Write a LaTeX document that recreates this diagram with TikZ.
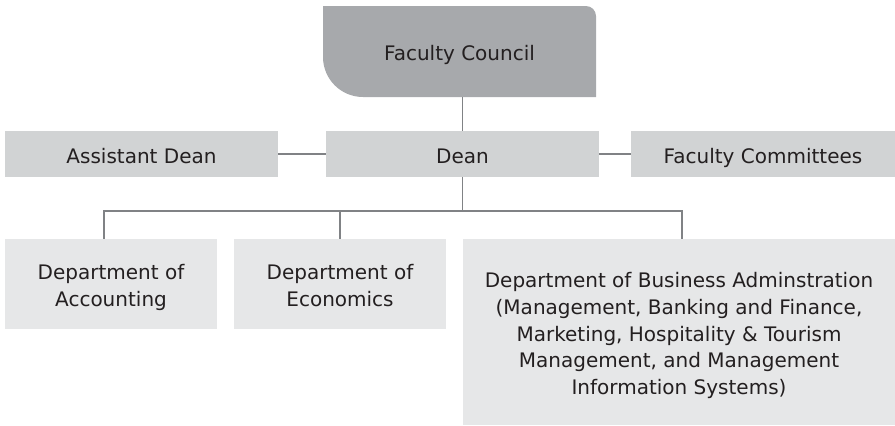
\documentclass[tikz,border=0pt]{standalone}
\usepackage{fontspec}
\setmainfont{DejaVu Sans}
\definecolor{councilgray}{HTML}{A7A9AC}
\definecolor{midgray}{HTML}{D1D3D4}
\definecolor{lightgray}{HTML}{E6E7E8}
\definecolor{linegray}{HTML}{808285}
\definecolor{txt}{HTML}{231F20}
\newcommand\myhstrut{\rule{0pt}{24pt}}
\newcommand\mydstrut{\rule[-6pt]{0pt}{6pt}}
\begin{document}
\begin{tikzpicture}[x=1pt,y=-1pt,
  every node/.style={inner sep=0pt, text=txt, font=\fontsize{20}{26.7}\selectfont, align=center},
  onerow/.style={text height=20pt, text depth=2pt},
  topbox/.style={onerow, fill=midgray, minimum height=46pt},
  deptbox/.style={fill=lightgray},
  conn/.style={draw=linegray, line width=1.1pt}]
\useasboundingbox (0,0) rectangle (895,426);
% Faculty Council shape
\fill[councilgray] (323,6) -- (586,6) .. controls (591.5,6) and (596,10.5) .. (596,16)
  -- (596,97) -- (363,97) .. controls (340.9,97) and (323,79.1) .. (323,57) -- cycle;
\node[onerow, minimum width=273pt, minimum height=91pt, text height=19pt] (council) at (459.5,51.5) {Faculty Council};
% second row
\node[topbox, minimum width=273pt] (asst) at (141.5,154) {Assistant Dean};
\node[topbox, minimum width=273pt] (dean) at (462.5,154) {Dean};
\node[topbox, minimum width=264pt] (comm) at (763,154) {Faculty Committees};
% departments
\node[deptbox, minimum width=212pt, minimum height=90pt] (acc) at (111,284) {\myhstrut Department of\\Accounting\mydstrut};
\node[deptbox, minimum width=212pt, minimum height=90pt] (eco) at (340,284) {\myhstrut Department of\\Economics\mydstrut};
\node[deptbox, minimum width=432pt, minimum height=186pt] (bus) at (679,332)
  {\myhstrut Department of Business Adminstration\\(Management, Banking and Finance,\\Marketing, Hospitality \& Tourism\\Management, and Management\\Information Systems)\mydstrut};
% connectors
\coordinate (bar) at (462,211);
\draw[conn] (dean.north) -- (dean.north |- council.south);
\draw[conn] (asst.east) -- (dean.west);
\draw[conn] (dean.east) -- (comm.west);
\draw[conn] (dean.south) -- (dean.south |- bar);
\draw[conn] ([xshift=-7pt]acc.north) |- (bar);
\draw[conn] (eco.north) -- (eco.north |- bar);
\draw[conn] ([xshift=3pt]bus.north) |- (bar);
\end{tikzpicture}
\end{document}
